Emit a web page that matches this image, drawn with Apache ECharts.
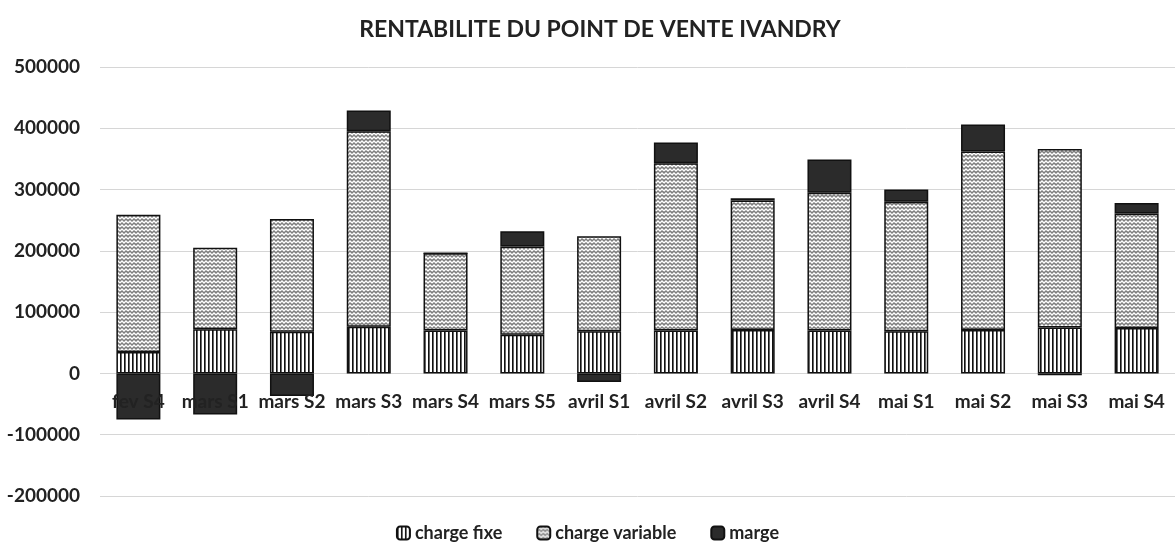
<!DOCTYPE html>
<html>
<head>
<meta charset="utf-8">
<script src="https://cdn.jsdelivr.net/npm/echarts@6/dist/echarts.min.js"></script>
<style>
  html, body { margin: 0; padding: 0; background: #fff; }
  #chart { width: 1175px; height: 552px; }
</style>
</head>
<body>
<div id="chart"></div>
<script>
// data
var categories = ['fev S4', 'mars S1', 'mars S2', 'mars S3', 'mars S4', 'mars S5', 'avril S1',
  'avril S2', 'avril S3', 'avril S4', 'mai S1', 'mai S2', 'mai S3', 'mai S4'];
var chargeFixe = [35000, 72000, 68000, 76000, 70000, 63000, 69000, 70000, 71000, 70000, 69000, 71000, 75000, 74000];
var chargeVariable = [224000, 133000, 184000, 319000, 126000, 144000, 155000, 273000, 211000, 225000, 211000, 291000, 291000, 187000];
var marge = [-75000, -67000, -37000, 34000, 0, 25000, -14000, 34000, 4000, 54000, 20000, 44000, -3000, 17000];
var yTicks = [-200000, -100000, 0, 100000, 200000, 300000, 400000, 500000];

var FONT = 'Lato, "Open Sans", sans-serif';

// hatch patterns, like the excel print
function stripes() {
  var c = document.createElement('canvas');
  c.width = 4; c.height = 4;
  var ctx = c.getContext('2d');
  ctx.fillStyle = '#ffffff';
  ctx.fillRect(0, 0, 4, 4);
  ctx.fillStyle = '#111111';
  ctx.fillRect(0, 0, 1, 4);
  ctx.fillStyle = '#666666';
  ctx.fillRect(1, 0, 1, 4);
  return c;
}

function weave() {
  var c = document.createElement('canvas');
  c.width = 8; c.height = 8;
  var ctx = c.getContext('2d');
  ctx.fillStyle = '#7e7e7e';
  ctx.fillRect(0, 0, 8, 8);
  ctx.strokeStyle = '#ffffff';
  ctx.lineWidth = 1.3;
  ctx.beginPath();
  ctx.moveTo(0, 3); ctx.lineTo(2, 1); ctx.lineTo(4, 3); ctx.lineTo(6, 1); ctx.lineTo(8, 3);
  ctx.moveTo(-2, 5); ctx.lineTo(0, 7); ctx.lineTo(2, 5); ctx.lineTo(4, 7); ctx.lineTo(6, 5); ctx.lineTo(8, 7);
  ctx.stroke();
  return c;
}

var chart = echarts.init(document.getElementById('chart'));

function barSeries(name, data, fill) {
  return {
    name: name,
    type: 'bar',
    stack: 'total',
    barWidth: 44,
    data: data,
    itemStyle: {
      color: fill,
      borderColor: '#111',
      borderWidth: 1.5
    }
  };
}

chart.setOption({
  animation: false,
  backgroundColor: '#fff',
  textStyle: { fontFamily: FONT },
  title: {
    text: 'RENTABILITE DU POINT DE VENTE IVANDRY',
    left: 595,
    textAlign: 'center',
    top: 13,
    textStyle: { fontFamily: FONT, fontSize: 23, fontWeight: 'bold', color: '#222' }
  },
  legend: {
    bottom: 5,
    left: 'center',
    itemWidth: 13,
    itemHeight: 13,
    itemGap: 34,
    textStyle: { fontFamily: FONT, fontSize: 18, fontWeight: 'bold', color: '#222' }
  },
  grid: {
    left: 100,
    right: -4,
    top: 67,
    bottom: 56
  },
  xAxis: {
    type: 'category',
    data: categories,
    // labels sit just under the zero line and over the bars, as in the print
    offset: -123,
    z: 5,
    axisLine: { show: false },
    axisTick: { show: false },
    axisLabel: { interval: 0, margin: 19, fontFamily: FONT, fontSize: 19, fontWeight: 'bold', color: '#222' }
  },
  yAxis: {
    type: 'value',
    min: yTicks[0],
    max: yTicks[yTicks.length - 1],
    interval: 100000,
    axisLine: { show: false },
    axisTick: { show: false },
    splitLine: { lineStyle: { color: '#d6d6d6', width: 1 } },
    axisLabel: {
      margin: 20, fontFamily: FONT, fontSize: 19, fontWeight: 'bold', color: '#222',
      formatter: function (v) { return String(v); }
    }
  },
  series: [
    barSeries('charge fixe', chargeFixe, { image: stripes(), repeat: 'repeat' }),
    barSeries('charge variable', chargeVariable, { image: weave(), repeat: 'repeat' }),
    barSeries('marge', marge, '#2b2b2b')
  ]
});
</script>
</body>
</html>
